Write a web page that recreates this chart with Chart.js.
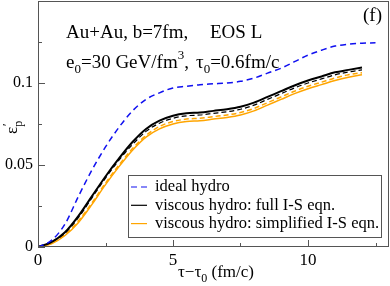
<!DOCTYPE html>
<html>
<head>
<meta charset="utf-8">
<script src="https://cdn.jsdelivr.net/npm/chart.js@4.4.0/dist/chart.umd.min.js"></script>
<style>
  html, body { margin: 0; padding: 0; background: #fff; }
</style>
</head>
<body>
<canvas id="epChart" width="390" height="286"></canvas>
<script>
// tau - tau0 (fm/c)
const tau = [0, 0.5, 1, 1.5, 2, 2.5, 3, 3.5, 4, 4.5, 5, 5.5, 6, 6.5, 7, 7.5, 8, 8.5, 9, 9.5, 10, 10.5, 11, 11.5, 12, 12.5];

// momentum anisotropy eps'_p
const idealHydro = [0, 0.004, 0.014, 0.031, 0.047, 0.061, 0.073, 0.083, 0.090, 0.094, 0.097, 0.098, 0.099, 0.0995, 0.100, 0.101, 0.103, 0.106, 0.109, 0.113, 0.117, 0.120, 0.1225, 0.1237, 0.1243, 0.1245];
const fullIS = [0, 0.003, 0.009, 0.019, 0.031, 0.043, 0.054, 0.064, 0.072, 0.077, 0.080, 0.0815, 0.082, 0.083, 0.084, 0.0855, 0.088, 0.0915, 0.095, 0.0985, 0.1015, 0.104, 0.1065, 0.108, 0.1095, null];
const fullISdash = [0, 0.003, 0.0085, 0.018, 0.030, 0.042, 0.053, 0.0625, 0.0705, 0.0755, 0.0785, 0.080, 0.0805, 0.0815, 0.0825, 0.084, 0.0865, 0.090, 0.0935, 0.097, 0.100, 0.1025, 0.105, 0.1067, 0.108, null];
const simpleISdash = [0, 0.0025, 0.0075, 0.016, 0.027, 0.039, 0.050, 0.060, 0.068, 0.0735, 0.0765, 0.078, 0.0785, 0.0795, 0.0805, 0.082, 0.0845, 0.088, 0.0915, 0.095, 0.098, 0.1005, 0.103, 0.105, 0.1063, null];
const simpleIS = [0, 0.002, 0.007, 0.015, 0.026, 0.038, 0.049, 0.059, 0.067, 0.072, 0.075, 0.0765, 0.077, 0.078, 0.079, 0.0805, 0.083, 0.0865, 0.090, 0.0935, 0.0965, 0.099, 0.1015, 0.1035, 0.105, null];

const xTickValues = [0, 2.5, 5, 7.5, 10, 12.5];
const xTickLabels = ['0', '', '5', '', '10', ''];
const yTickValues = [0, 0.025, 0.05, 0.075, 0.1, 0.125];
const yTickLabels = ['0', '', '0.05', '', '0.1', ''];

const legendNames = ['ideal hydro', 'viscous hydro: full I-S eqn.', 'viscous hydro: simplified I-S eqn.'];

const SERIF = '"Liberation Serif", "DejaVu Serif", serif';

function pts(ys) {
    return tau.map(function(t, i) { return { x: t, y: ys[i] }; });
}

// draws a run of text pieces, some raised or lowered
function drawRich(ctx, parts, x, y, base) {
    parts.forEach(function(p) {
        ctx.font = (p.size || base || 19) + 'px ' + SERIF;
        ctx.fillText(p.t, x, y + (p.dy || 0));
        x += ctx.measureText(p.t).width;
    });
}

const decorations = {
    id: 'decorations',
    afterDraw: function(chart) {
        const ctx = chart.ctx;
        const a = chart.chartArea;
        const xs = chart.scales.x, ys = chart.scales.y;
        ctx.save();

        // frame
        ctx.strokeStyle = '#555';
        ctx.lineWidth = 1;
        ctx.strokeRect(a.left + 0.5, a.top + 0.5, a.right - a.left - 1, a.bottom - a.top - 1);

        // inward ticks
        ctx.beginPath();
        xTickValues.forEach(function(v, i) {
            const px = Math.round(xs.getPixelForValue(v)) + 0.5;
            const len = xTickLabels[i] ? 7 : 4;
            ctx.moveTo(px, a.bottom);
            ctx.lineTo(px, a.bottom - len);
        });
        yTickValues.forEach(function(v, i) {
            const py = Math.round(ys.getPixelForValue(v)) + 0.5;
            const len = yTickLabels[i] ? 7 : 4;
            ctx.moveTo(a.left, py);
            ctx.lineTo(a.left + len, py);
        });
        ctx.stroke();

        ctx.fillStyle = '#000';
        ctx.textBaseline = 'alphabetic';
        ctx.textAlign = 'left';

        drawRich(ctx, [{ t: 'Au+Au, b=7fm,' }], 66, 38);
        drawRich(ctx, [{ t: 'EOS L' }], 210, 38);
        drawRich(ctx, [
            { t: 'e' }, { t: '0', size: 13, dy: 5 }, { t: '=30 GeV/fm' },
            { t: '3', size: 13, dy: -9 }, { t: ',' }
        ], 66, 68);
        drawRich(ctx, [{ t: '\u03c4' }, { t: '0', size: 13, dy: 5 }, { t: '=0.6fm/c' }], 196, 68);
        drawRich(ctx, [{ t: '(f)' }], 363, 21);

        // x axis title
        drawRich(ctx, [{ t: '\u03c4\u2212\u03c4' }, { t: '0', size: 12, dy: 5 }, { t: ' (fm/c)' }], 178, 277, 17);

        // y axis title
        ctx.save();
        ctx.translate(17, 134);
        ctx.rotate(-Math.PI / 2);
        drawRich(ctx, [{ t: '\u03b5' }, { t: 'p', size: 12, dy: 5 }], 0, 0, 17);
        ctx.font = '12px ' + SERIF;
        ctx.fillText('\u2032', 8, -6);
        ctx.restore();

        // legend box
        const lx = 128, ly = 175, lw = 253, lh = 62;
        ctx.fillStyle = '#fff';
        ctx.fillRect(lx, ly, lw, lh);
        ctx.strokeStyle = '#555';
        ctx.lineWidth = 1;
        ctx.strokeRect(lx + 0.5, ly + 0.5, lw, lh);
        const legendSets = [0, 1, 4];
        ctx.font = '16.5px ' + SERIF;
        ctx.textBaseline = 'middle';
        legendSets.forEach(function(di, i) {
            const ds = chart.data.datasets[di];
            const rowY = 187 + i * 18.3;
            ctx.beginPath();
            ctx.strokeStyle = ds.borderColor;
            ctx.lineWidth = 1.2;
            ctx.setLineDash(ds.borderDash || []);
            ctx.moveTo(131, rowY);
            ctx.lineTo(147, rowY);
            ctx.stroke();
            ctx.setLineDash([]);
            ctx.fillStyle = '#000';
            ctx.fillText(legendNames[i], 155, rowY);
        });
        ctx.restore();
    }
};

const ctx = document.getElementById('epChart').getContext('2d');

new Chart(ctx, {
    type: 'line',
    data: {
        datasets: [
            { label: legendNames[0], data: pts(idealHydro), borderColor: '#1010f0', borderWidth: 1.5, borderDash: [6, 4] },
            { label: legendNames[1], data: pts(fullIS), borderColor: '#000', borderWidth: 2 },
            { label: 'full I-S (dashed)', data: pts(fullISdash), borderColor: '#000', borderWidth: 1.2, borderDash: [5, 3] },
            { label: 'simplified I-S (dashed)', data: pts(simpleISdash), borderColor: '#ffa500', borderWidth: 1.5, borderDash: [5, 3] },
            { label: legendNames[2], data: pts(simpleIS), borderColor: '#ffa500', borderWidth: 1.5 }
        ]
    },
    options: {
        responsive: false,
        animation: false,
        devicePixelRatio: 1,
        layout: { padding: { top: 1, right: 1, left: 0, bottom: 0 } },
        elements: {
            point: { radius: 0 },
            line: { cubicInterpolationMode: 'monotone', fill: false }
        },
        plugins: {
            legend: { display: false },
            tooltip: { enabled: false }
        },
        scales: {
            x: {
                type: 'linear',
                min: 0,
                max: 13,
                afterBuildTicks: function(s) { s.ticks = xTickValues.map(function(v) { return { value: v }; }); },
                afterFit: function(s) { s.height = 39; s.paddingLeft = 0; s.paddingRight = 0; },
                grid: { display: false, drawTicks: false },
                border: { display: false },
                ticks: {
                    padding: 3,
                    maxRotation: 0,
                    autoSkip: false,
                    color: '#000',
                    font: { size: 17, family: SERIF },
                    callback: function(v, i) { return xTickLabels[i]; }
                }
            },
            y: {
                type: 'linear',
                min: 0,
                max: 0.15,
                afterBuildTicks: function(s) { s.ticks = yTickValues.map(function(v) { return { value: v }; }); },
                afterFit: function(s) { s.width = 38; s.paddingTop = 0; s.paddingBottom = 0; },
                grid: { display: false, drawTicks: false },
                border: { display: false },
                ticks: {
                    padding: 5,
                    autoSkip: false,
                    color: '#000',
                    font: { size: 16, family: SERIF },
                    callback: function(v, i) { return yTickLabels[i]; }
                }
            }
        }
    },
    plugins: [decorations]
});
</script>
</body>
</html>
